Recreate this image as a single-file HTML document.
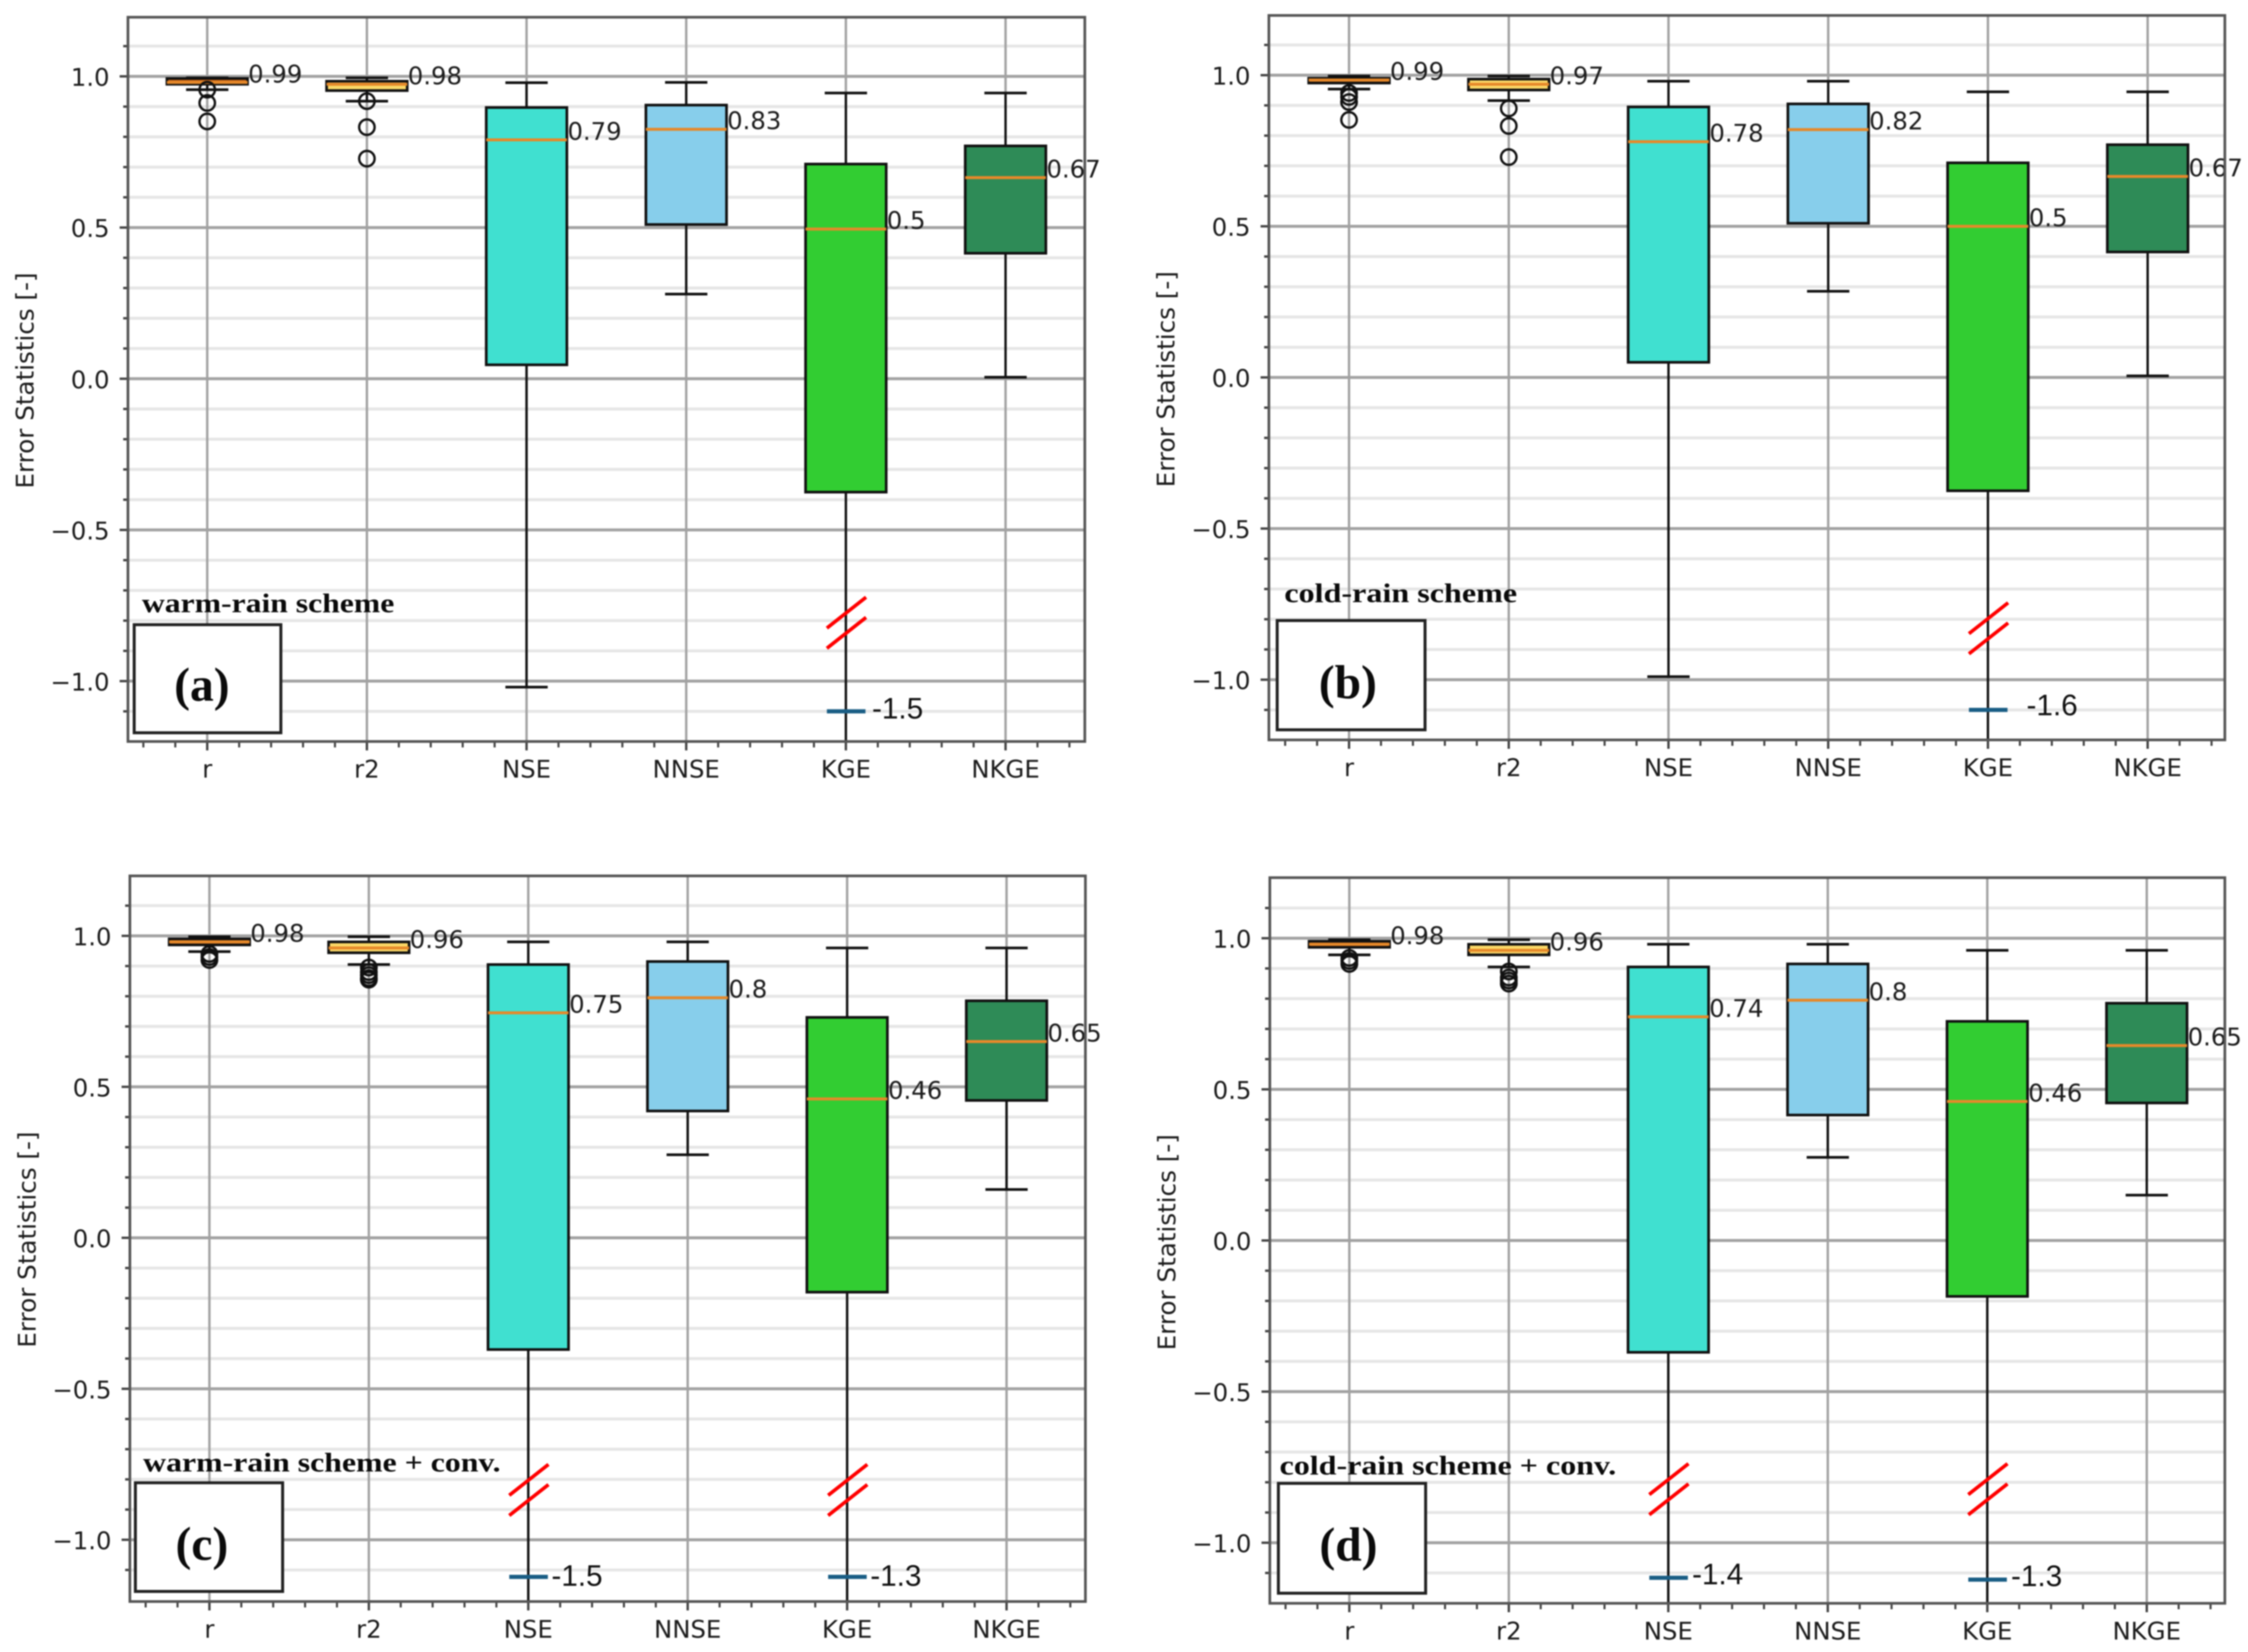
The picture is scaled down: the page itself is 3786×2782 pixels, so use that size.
<!DOCTYPE html>
<html lang="en">
<head>
<meta charset="utf-8">
<title>Error statistics box plots</title>
<style>
html,body{margin:0;padding:0;background:#fff;width:3786px;height:2782px;overflow:hidden}
#figure{display:block;position:absolute;left:0;top:0;filter:blur(1px)}
.tick{font-family:"DejaVu Sans",sans-serif;font-size:41px;fill:#1c1c1c}
.off{font-family:"Liberation Sans",sans-serif;font-size:50px;fill:#111}
.scheme{font-family:"Liberation Serif",serif;font-weight:bold;font-size:46px;fill:#0b0b0b}
.letter{font-family:"Liberation Serif",serif;font-weight:bold;font-size:80px;fill:#0b0b0b}
</style>
</head>
<body>
<svg id="figure" xmlns="http://www.w3.org/2000/svg" width="3786" height="2782" viewBox="0 0 3786 2782"></svg>
<script>
// ---------- shared axis data ----------
const categories = ['r', 'r2', 'NSE', 'NNSE', 'KGE', 'NKGE'];
const boxColors = ['#c8661a', '#fbd867', '#40e0d0', '#87ceeb', '#32cd32', '#2e8b57'];
const yTickValues = [1.0, 0.5, 0.0, -0.5, -1.0];
const yTickLabels = ['1.0', '0.5', '0.0', '\u22120.5', '\u22121.0'];
const yMinorValues = [1.1, 0.9, 0.8, 0.7, 0.6, 0.4, 0.3, 0.2, 0.1, -0.1, -0.2, -0.3, -0.4, -0.6, -0.7, -0.8, -0.9, -1.1];

// ---------- panel (a) warm-rain scheme ----------
const aWhiskerHigh = [0.995, 0.995, 0.979, 0.98, 0.945, 0.945];
const aQ3 = [0.993, 0.984, 0.897, 0.905, 0.71, 0.77];
const aMedian = [0.98, 0.974, 0.79, 0.825, 0.495, 0.665];
const aQ1 = [0.974, 0.953, 0.046, 0.51, -0.375, 0.415];
const aWhiskerLow = [0.956, 0.918, -1.02, 0.28, -1.5, 0.005];
const aOutliers = [[0.956, 0.912, 0.851], [0.918, 0.832, 0.728], [], [], [], []];
const aMedianLabels = ['0.99', '0.98', '0.79', '0.83', '0.5', '0.67'];
const aOffscaleMarkers = [null, null, null, null, -1.1, null];
const aOffscaleLabels = [null, null, null, null, '-1.5', null];
const aBreakAt = [null, null, null, null, -0.807, null];

// ---------- panel (b) cold-rain scheme ----------
const bWhiskerHigh = [0.997, 0.997, 0.98, 0.98, 0.945, 0.945];
const bQ3 = [0.99, 0.987, 0.895, 0.905, 0.71, 0.77];
const bMedian = [0.984, 0.97, 0.78, 0.82, 0.5, 0.665];
const bQ1 = [0.974, 0.951, 0.05, 0.51, -0.375, 0.415];
const bWhiskerLow = [0.954, 0.916, -0.99, 0.285, -1.6, 0.005];
const bOutliers = [[0.941, 0.928, 0.911, 0.852], [0.89, 0.832, 0.729], [], [], [], []];
const bMedianLabels = ['0.99', '0.97', '0.78', '0.82', '0.5', '0.67'];
const bOffscaleMarkers = [null, null, null, null, -1.1, null];
const bOffscaleLabels = [null, null, null, null, '-1.6', null];
const bBreakAt = [null, null, null, null, -0.83, null];

// ---------- panel (c) warm-rain scheme + conv. ----------
const cWhiskerHigh = [0.997, 0.997, 0.98, 0.98, 0.96, 0.96];
const cQ3 = [0.99, 0.98, 0.905, 0.915, 0.73, 0.785];
const cMedian = [0.98, 0.96, 0.745, 0.795, 0.46, 0.65];
const cQ1 = [0.97, 0.944, -0.37, 0.42, -0.18, 0.455];
const cWhiskerLow = [0.948, 0.905, -1.5, 0.275, -1.3, 0.16];
const cOutliers = [[0.94, 0.93, 0.92], [0.895, 0.88, 0.87, 0.86, 0.855], [], [], [], []];
const cMedianLabels = ['0.98', '0.96', '0.75', '0.8', '0.46', '0.65'];
const cOffscaleMarkers = [null, null, -1.123, null, -1.123, null];
const cOffscaleLabels = [null, null, '-1.5', null, '-1.3', null];
const cBreakAt = [null, null, -0.835, null, -0.835, null];

// ---------- panel (d) cold-rain scheme + conv. ----------
const dWhiskerHigh = [0.995, 0.995, 0.98, 0.98, 0.96, 0.96];
const dQ3 = [0.99, 0.98, 0.905, 0.915, 0.725, 0.785];
const dMedian = [0.98, 0.96, 0.74, 0.795, 0.46, 0.645];
const dQ1 = [0.97, 0.945, -0.37, 0.415, -0.185, 0.455];
const dWhiskerLow = [0.945, 0.905, -1.4, 0.275, -1.3, 0.15];
const dOutliers = [[0.935, 0.925, 0.915], [0.89, 0.87, 0.86, 0.85], [], [], [], []];
const dMedianLabels = ['0.98', '0.96', '0.74', '0.8', '0.46', '0.65'];
const dOffscaleMarkers = [null, null, -1.116, null, -1.122, null];
const dOffscaleLabels = [null, null, '-1.4', null, '-1.3', null];
const dBreakAt = [null, null, -0.823, null, -0.823, null];

// ---------- page geometry ----------
const panelA = {
  id: 'a', letter: '(a)', scheme: 'warm-rain scheme',
  left: 215.5, right: 1827, top: 29, bottom: 1248.7, zeroY: 637.8, unit: 509.2, firstX: 349, stepX: 268.9,
  note: {x1: 226, x2: 473, y1: 1052, y2: 1234, letterX: 340, letterY: 1180, textX: 239, textY: 1031, textLen: 425},
  offLabelDx: 44, offLabelDy: 12,
  whiskerHigh: aWhiskerHigh, q3: aQ3, median: aMedian, q1: aQ1, whiskerLow: aWhiskerLow, outliers: aOutliers,
  medianLabels: aMedianLabels, offMarkers: aOffscaleMarkers, offLabels: aOffscaleLabels, breakAt: aBreakAt
};
const panelB = {
  id: 'b', letter: '(b)', scheme: 'cold-rain scheme',
  left: 2137, right: 3747, top: 26, bottom: 1246, zeroY: 635.6, unit: 509, firstX: 2272, stepX: 269,
  note: {x1: 2151, x2: 2400, y1: 1045, y2: 1229, letterX: 2270, letterY: 1176, textX: 2163, textY: 1014, textLen: 392},
  offLabelDx: 65, offLabelDy: 9,
  whiskerHigh: bWhiskerHigh, q3: bQ3, median: bMedian, q1: bQ1, whiskerLow: bWhiskerLow, outliers: bOutliers,
  medianLabels: bMedianLabels, offMarkers: bOffscaleMarkers, offLabels: bOffscaleLabels, breakAt: bBreakAt
};
const panelC = {
  id: 'c', letter: '(c)', scheme: 'warm-rain scheme + conv.',
  left: 218.75, right: 1828, top: 1475, bottom: 2697, zeroY: 2084.5, unit: 508.5, firstX: 352.7, stepX: 268.5,
  note: {x1: 228, x2: 476, y1: 2497, y2: 2680, letterX: 340, letterY: 2627, textX: 241, textY: 2478, textLen: 602},
  offLabelDx: 39, offLabelDy: 15,
  whiskerHigh: cWhiskerHigh, q3: cQ3, median: cMedian, q1: cQ1, whiskerLow: cWhiskerLow, outliers: cOutliers,
  medianLabels: cMedianLabels, offMarkers: cOffscaleMarkers, offLabels: cOffscaleLabels, breakAt: cBreakAt
};
const panelD = {
  id: 'd', letter: '(d)', scheme: 'cold-rain scheme + conv.',
  left: 2138.6, right: 3747, top: 1478, bottom: 2700, zeroY: 2089, unit: 509, firstX: 2272.5, stepX: 268.6,
  note: {x1: 2153, x2: 2401, y1: 2498, y2: 2683, letterX: 2271, letterY: 2628, textX: 2155, textY: 2483, textLen: 567},
  offLabelDx: 40, offLabelDy: 11,
  whiskerHigh: dWhiskerHigh, q3: dQ3, median: dMedian, q1: dQ1, whiskerLow: dWhiskerLow, outliers: dOutliers,
  medianLabels: dMedianLabels, offMarkers: dOffscaleMarkers, offLabels: dOffscaleLabels, breakAt: dBreakAt
};
const panels = [panelA, panelB, panelC, panelD];

const SVG_NS = 'http://www.w3.org/2000/svg';
const figure = document.getElementById('figure');

function make(tag, parent, props, text) {
  const node = document.createElementNS(SVG_NS, tag);
  for (const k in props) node.setAttribute(k, props[k]);
  if (text !== undefined) node.textContent = text;
  parent.appendChild(node);
  return node;
}

function drawPanel(p) {
  const yScale = v => p.zeroY - v * p.unit;
  const xScale = i => p.firstX + i * p.stepX;
  const boxW = 0.505 * p.stepX;
  const capW = 0.265 * p.stepX;

  const panel = make('g', figure, {});
  
  

  const clip = make('clipPath', panel, {id: 'clip-' + p.id});
  make('rect', clip, {x: p.left, y: p.top, width: p.right - p.left, height: p.bottom - p.top});

  // minor horizontal grid + ticks
  yMinorValues.forEach(v => {
    const grid = make('line', panel, {x1: p.left, x2: p.right, y1: yScale(v), y2: yScale(v), stroke: '#e6e6e6', 'stroke-width': 5});
    
    
    const tick = make('line', panel, {x1: p.left - 8, x2: p.left, y1: yScale(v), y2: yScale(v), stroke: '#444', 'stroke-width': 4});
    
    
  });

  // major horizontal grid + labels
  yTickValues.forEach((v, i) => {
    const grid = make('line', panel, {x1: p.left, x2: p.right, y1: yScale(v), y2: yScale(v), stroke: '#a2a2a2', 'stroke-width': 5});
    
    
    const tick = make('line', panel, {x1: p.left - 14, x2: p.left, y1: yScale(v), y2: yScale(v), stroke: '#444', 'stroke-width': 4});
    
    
    const label = make('text', panel, {class: 'tick', x: p.left - 31, y: yScale(v) + 16, 'text-anchor': 'end'}, yTickLabels[i]);
    
    
  });

  // x minor ticks (five per category)
  for (let j = -2; j < 30; j++) {
    const mx = p.firstX + j * p.stepX / 5;
    if (mx <= p.left + 4 || mx >= p.right - 4 || j % 5 === 0) continue;
    const minor = make('line', panel, {x1: mx, x2: mx, y1: p.bottom, y2: p.bottom + 10, stroke: '#444', 'stroke-width': 3.5});
    
    
  }

  // vertical grid, x ticks and labels
  categories.forEach((c, i) => {
    const cx = xScale(i);
    const grid = make('line', panel, {x1: cx, x2: cx, y1: p.top, y2: p.bottom, stroke: '#a2a2a2', 'stroke-width': 4});
    
    
    const tick = make('line', panel, {x1: cx, x2: cx, y1: p.bottom, y2: p.bottom + 15, stroke: '#444', 'stroke-width': 4});
    
    
    const label = make('text', panel, {class: 'tick', x: cx, y: p.bottom + 61, 'text-anchor': 'middle'}, c);
    
    
  });

  // axis title
  const titleX = p.left - 159;
  const title = make('text', panel, {
    class: 'tick', x: titleX, y: p.zeroY + 3, 'text-anchor': 'middle',
    textLength: 364, lengthAdjust: 'spacingAndGlyphs',
    transform: 'rotate(-90 ' + titleX + ' ' + (p.zeroY + 3) + ')'
  }, 'Error Statistics [-]');
  
  

  // box plots
  categories.forEach((c, i) => {
    const cx = xScale(i);
    const group = make('g', panel, {'clip-path': 'url(#clip-' + p.id + ')'});
    
    

    const hi = yScale(p.whiskerHigh[i]);
    const lo = yScale(p.whiskerLow[i]);
    const top = yScale(p.q3[i]);
    const bot = yScale(p.q1[i]);
    const med = yScale(p.median[i]);

    const upper = make('line', group, {x1: cx, x2: cx, y1: hi, y2: top, stroke: '#111', 'stroke-width': 4});
    
    
    const lower = make('line', group, {x1: cx, x2: cx, y1: bot, y2: lo, stroke: '#111', 'stroke-width': 4});
    
    
    const capHi = make('line', group, {x1: cx - capW / 2, x2: cx + capW / 2, y1: hi, y2: hi, stroke: '#111', 'stroke-width': 4.5});
    
    
    const capLo = make('line', group, {x1: cx - capW / 2, x2: cx + capW / 2, y1: lo, y2: lo, stroke: '#111', 'stroke-width': 4.5});
    
    

    const box = make('rect', group, {x: cx - boxW / 2, y: top, width: boxW, height: bot - top, fill: boxColors[i], stroke: '#111', 'stroke-width': 4.5});
    
    
    const medLine = make('line', group, {x1: cx - boxW / 2, x2: cx + boxW / 2, y1: med, y2: med, stroke: '#e6892a', 'stroke-width': 5});
    
    

    p.outliers[i].forEach(v => {
      const dot = make('circle', group, {cx: cx, cy: yScale(v), r: 13, fill: 'none', stroke: '#111', 'stroke-width': 4});
      
      
    });

    const value = make('text', panel, {class: 'tick', x: cx + boxW / 2 + 1, y: med}, p.medianLabels[i]);
    
    

    if (p.breakAt[i] !== null) {
      const centre = yScale(p.breakAt[i]);
      [-17, 17].forEach(off => {
        const slash = make('line', panel, {x1: cx - 32, x2: cx + 34, y1: centre + off + 26, y2: centre + off - 26, stroke: '#ff0000', 'stroke-width': 6});
        
        
      });
    }
    if (p.offMarkers[i] !== null) {
      const my = yScale(p.offMarkers[i]);
      const marker = make('line', panel, {x1: cx - 32, x2: cx + 33, y1: my, y2: my, stroke: '#1a5e85', 'stroke-width': 7});
      
      
      const offText = make('text', panel, {class: 'off', x: cx + p.offLabelDx, y: my + p.offLabelDy}, p.offLabels[i]);
      
      
    }
  });

  // frame
  const frame = make('rect', panel, {x: p.left, y: p.top, width: p.right - p.left, height: p.bottom - p.top, fill: 'none', stroke: '#555', 'stroke-width': 4.5});
  
  

  // annotation box
  const n = p.note;
  const noteBox = make('rect', panel, {x: n.x1, y: n.y1, width: n.x2 - n.x1, height: n.y2 - n.y1, fill: '#fff', stroke: '#222', 'stroke-width': 5});
  
  
  const letter = make('text', panel, {class: 'letter', x: n.letterX, y: n.letterY, 'text-anchor': 'middle'}, p.letter);
  
  
  const scheme = make('text', panel, {class: 'scheme', x: n.textX, y: n.textY, textLength: n.textLen, lengthAdjust: 'spacingAndGlyphs'}, p.scheme);
  
  
}

panels.forEach(drawPanel);
</script>
</body>
</html>
